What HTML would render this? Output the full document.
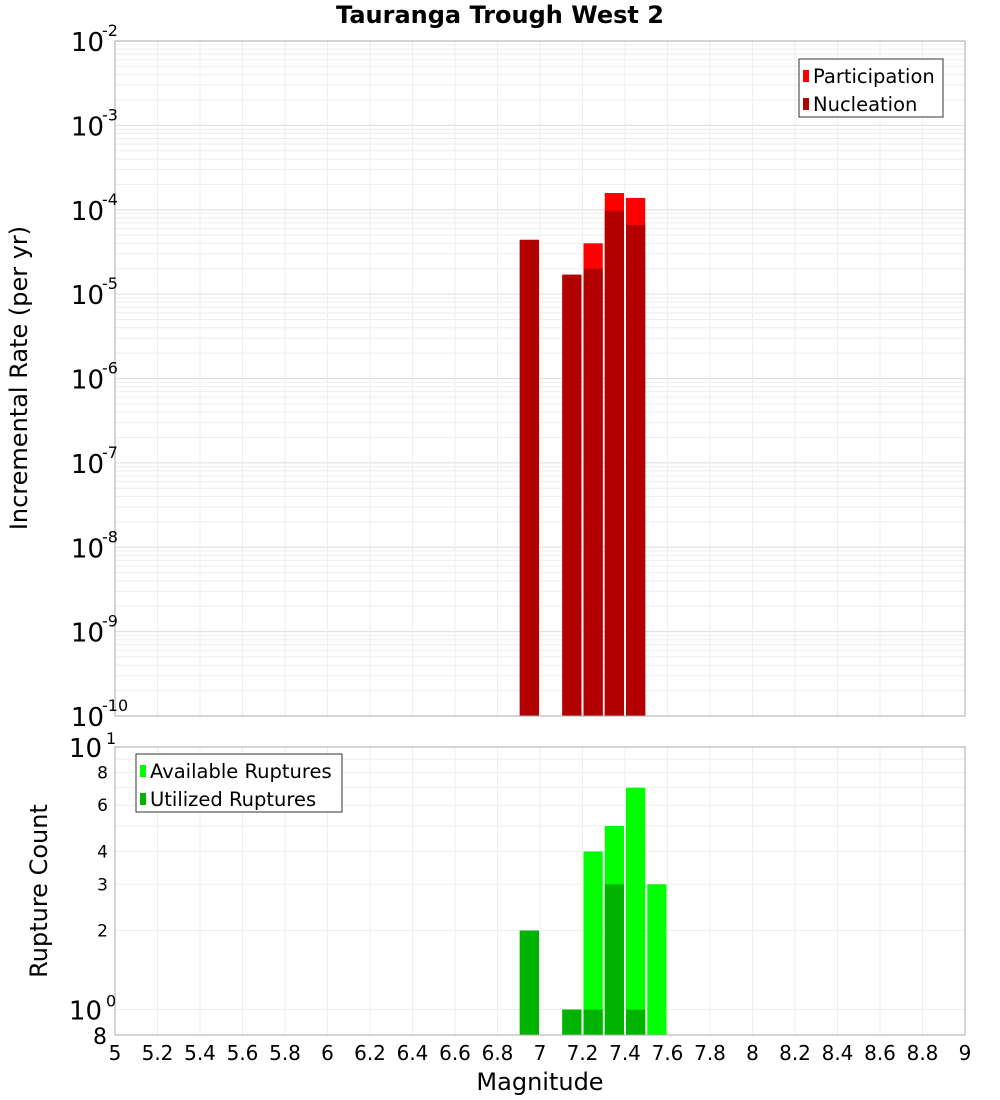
<!DOCTYPE html>
<html><head><meta charset="utf-8"><style>
body{margin:0;background:#fff}
svg{display:block;font-family:"DejaVu Sans","Liberation Sans",sans-serif}
</style></head><body>
<svg id="c" width="1000" height="1100">
<text x="500" y="23" text-anchor="middle" font-size="24" font-weight="bold">Tauranga Trough West 2</text>
<text transform="translate(27,378) rotate(-90)" text-anchor="middle" font-size="24">Incremental Rate (per yr)</text>
<text transform="translate(47,891) rotate(-90)" text-anchor="middle" font-size="24">Rupture Count</text>
<text x="540" y="1090" text-anchor="middle" font-size="24">Magnitude</text>
</svg>
<script>
const mags=[6.95,7.15,7.25,7.35,7.45,7.55];
const participation=[4.4e-5,1.7e-5,4.0e-5,1.58e-4,1.38e-4,0];
const nucleation=[4.4e-5,1.7e-5,2.0e-5,9.7e-5,6.6e-5,0];
const available=[2,1,4,5,7,3];
const utilized=[2,1,1,3,1,0];
const xTicks=[5,5.2,5.4,5.6,5.8,6,6.2,6.4,6.6,6.8,7,7.2,7.4,7.6,7.8,8,8.2,8.4,8.6,8.8,9];
const topExps=[-2,-3,-4,-5,-6,-7,-8,-9,-10];
const botMinor=[8,6,4,3,2];

const svg=document.getElementById('c');const NS='http://www.w3.org/2000/svg';
function el(t,a,p){const e=document.createElementNS(NS,t);for(const k in a)e.setAttribute(k,a[k]);(p||svg).appendChild(e);return e;}
const X0=115,X1=965;
const x=m=>X0+(m-5)/4*(X1-X0);
const T0=41,T1=716;
const yT=v=>T0+(-2-Math.log10(v))/8*(T1-T0);
const B0=747,B1=1035;
const yB=v=>B0+(1-Math.log10(v))/Math.log10(10/0.8)*(B1-B0);

const g1=el('g',{});


for(let e=-10;e<-2;e++)for(let k=1;k<10;k++){const y=yT(k*Math.pow(10,e));el('line',{x1:X0,x2:X1,y1:y,y2:y,stroke:k==1?'#ddd':'#eee','stroke-width':1},g1);}
xTicks.forEach(t=>{el('line',{x1:x(t),x2:x(t),y1:T0,y2:T1,stroke:'#eee'},g1);el('line',{x1:x(t),x2:x(t),y1:B0,y2:B1,stroke:'#eee'},g1);});
for(let v=0.8;v<10;v+=(v<1?0.2:1)){const y=yB(v);el('line',{x1:X0,x2:X1,y1:y,y2:y,stroke:'#eee'},g1);}

const bw=x(5.1)-x(5)-2;
mags.forEach((m,i)=>{
 if(participation[i]>0){const r=el('rect',{x:x(m)-bw/2,y:yT(participation[i]),width:bw,height:T1-yT(participation[i]),fill:'#ff0000'});
 
 }
 if(nucleation[i]>0){const r=el('rect',{x:x(m)-bw/2,y:yT(nucleation[i]),width:bw,height:T1-yT(nucleation[i]),fill:'#b30000'});
 
 }
 if(available[i]>0){const r=el('rect',{x:x(m)-bw/2,y:yB(available[i]),width:bw,height:B1-yB(available[i]),fill:'#00ff00'});
 
 }
 if(utilized[i]>0){const r=el('rect',{x:x(m)-bw/2,y:yB(utilized[i]),width:bw,height:B1-yB(utilized[i]),fill:'#00b300'});
 
 }
});
el('rect',{x:X0,y:T0,width:X1-X0,height:T1-T0,fill:'none',stroke:'#aaa'});
el('rect',{x:X0,y:B0,width:X1-X0,height:B1-B0,fill:'none',stroke:'#aaa'});

topExps.forEach(e=>{const y=yT(Math.pow(10,e));
 const t=el('text',{x:104,y:y+10,'text-anchor':'end','font-size':26});
 
 
 t.textContent='10';
 const s=el('text',{x:102,y:y-5,'font-size':16});
 
 
 s.textContent=String(e);});
[[10,'1'],[1,'0']].forEach(([v,e])=>{const y=yB(v);
 const t=el('text',{x:102,y:y+10,'text-anchor':'end','font-size':26});
 
 
 t.textContent='10';
 const s=el('text',{x:106,y:y-3,'font-size':16});
 
 
 s.textContent=e;});
botMinor.forEach(v=>{const t=el('text',{x:108,y:yB(v)+6,'text-anchor':'end','font-size':17});
 
 
 t.textContent=String(v);});
{const t=el('text',{x:107,y:yB(0.8)+9,'text-anchor':'end','font-size':22});
 
 
 t.textContent='8';}
xTicks.forEach(v=>{const t=el('text',{x:x(v),y:1060,'text-anchor':'middle','font-size':20});
 
 
 t.textContent=String(v);});

function legend(x0,y0,w,items,name){const g=el('g',{});
 
 
 el('rect',{x:x0,y:y0,width:w,height:58,fill:'#fff',stroke:'#333'},g);
 items.forEach(([c,l],i)=>{el('rect',{x:x0+4,y:y0+11+i*28,width:6,height:12,fill:c},g);
 const t=el('text',{x:x0+14,y:y0+24+i*28,'font-size':19.5},g);t.textContent=l;});}
legend(799,59,144,[['#ff0000','Participation'],['#b30000','Nucleation']],'top-legend');
legend(136,754,206,[['#00ff00','Available Ruptures'],['#00b300','Utilized Ruptures']],'bottom-legend');
</script>
</body></html>
